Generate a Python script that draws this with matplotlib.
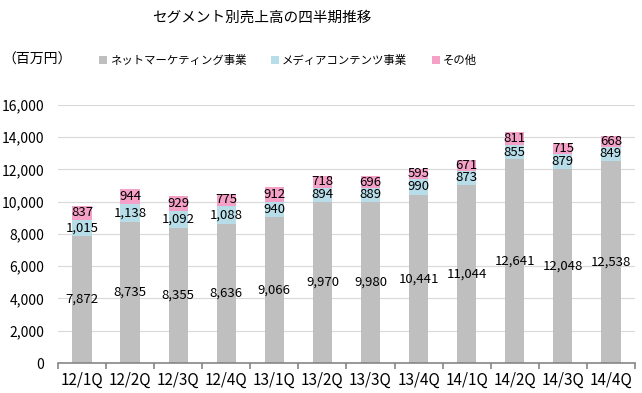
"""Segment sales by quarter, stacked bars."""

import numpy as np
import matplotlib
matplotlib.use('Agg')
import matplotlib.pyplot as plt
from matplotlib.patches import Patch

QUARTERS = ['12/1Q', '12/2Q', '12/3Q', '12/4Q', '13/1Q', '13/2Q',
            '13/3Q', '13/4Q', '14/1Q', '14/2Q', '14/3Q', '14/4Q']
NET_MARKETING = [7872, 8735, 8355, 8636, 9066, 9970,
                 9980, 10441, 11044, 12641, 12048, 12538]
MEDIA_CONTENTS = [1015, 1138, 1092, 1088, 940, 894,
                  889, 990, 873, 855, 879, 849]
OTHER = [837, 944, 929, 775, 912, 718,
         696, 595, 671, 811, 715, 668]
SERIES_NAMES = ['ネットマーケティング事業', 'メディアコンテンツ事業', 'その他']
COLORS = ['#BFBFBF', '#B7DEE8', '#F5A0C6']

FONT = ['Noto Sans CJK JP', 'DejaVu Sans']


def main():
    plt.rcParams['font.family'] = FONT

    fig = plt.figure(figsize=(6.42, 3.93), dpi=100)
    ax = fig.add_axes([0.0903, 0.0763, 0.8987, 0.6567])

    x = np.arange(len(QUARTERS))
    width = 0.4
    bottom = np.zeros(len(QUARTERS))
    for vals, color in zip([NET_MARKETING, MEDIA_CONTENTS, OTHER], COLORS):
        vals = np.array(vals)
        ax.bar(x, vals, width, bottom=bottom, color=color, zorder=2)
        for xi, b, v in zip(x, bottom, vals):
            ax.text(xi, b + v / 2, '{:,}'.format(v), ha='center', va='center',
                    fontsize=9.5, color='black', zorder=3)
        bottom = bottom + vals

    ax.set_xlim(-0.5, len(QUARTERS) - 0.5)
    ax.set_ylim(0, 16000)
    ax.set_yticks(range(0, 16001, 2000))
    ax.set_yticklabels(['{:,}'.format(v) for v in range(0, 16001, 2000)],
                       fontsize=10)
    ax.grid(axis='y', color='#D9D9D9', linewidth=0.8, zorder=0)
    ax.set_axisbelow(True)

    ax.set_xticks(x)
    ax.set_xticklabels(QUARTERS, fontsize=11)
    ax.set_xticks(np.arange(-0.5, len(QUARTERS), 1), minor=True)
    ax.tick_params(axis='x', which='major', length=0, pad=6)
    ax.tick_params(axis='x', which='minor', length=4, color='#868686',
                   width=1.2, direction='out')
    ax.tick_params(axis='y', length=0, pad=10)

    for side in ['left', 'right', 'top']:
        ax.spines[side].set_visible(False)
    ax.spines['bottom'].set_color('#868686')
    ax.spines['bottom'].set_linewidth(1.2)

    fig.text(0.408, 0.955, 'セグメント別売上高の四半期推移', ha='center',
             va='center', fontsize=10.5)
    fig.text(0.004, 0.847, '（百万円）', ha='left', va='center', fontsize=10)

    handles = [Patch(facecolor=c, edgecolor='none') for c in COLORS]
    fig.legend(handles, SERIES_NAMES, loc='center left',
               bbox_to_anchor=(0.138, 0.847), ncol=3, frameon=False,
               fontsize=8.2, handlelength=0.7, handleheight=0.7,
               handletextpad=0.25, columnspacing=2.2)

    fig.savefig('out.png', dpi=100)
    plt.close()


if __name__ == '__main__':
    main()
